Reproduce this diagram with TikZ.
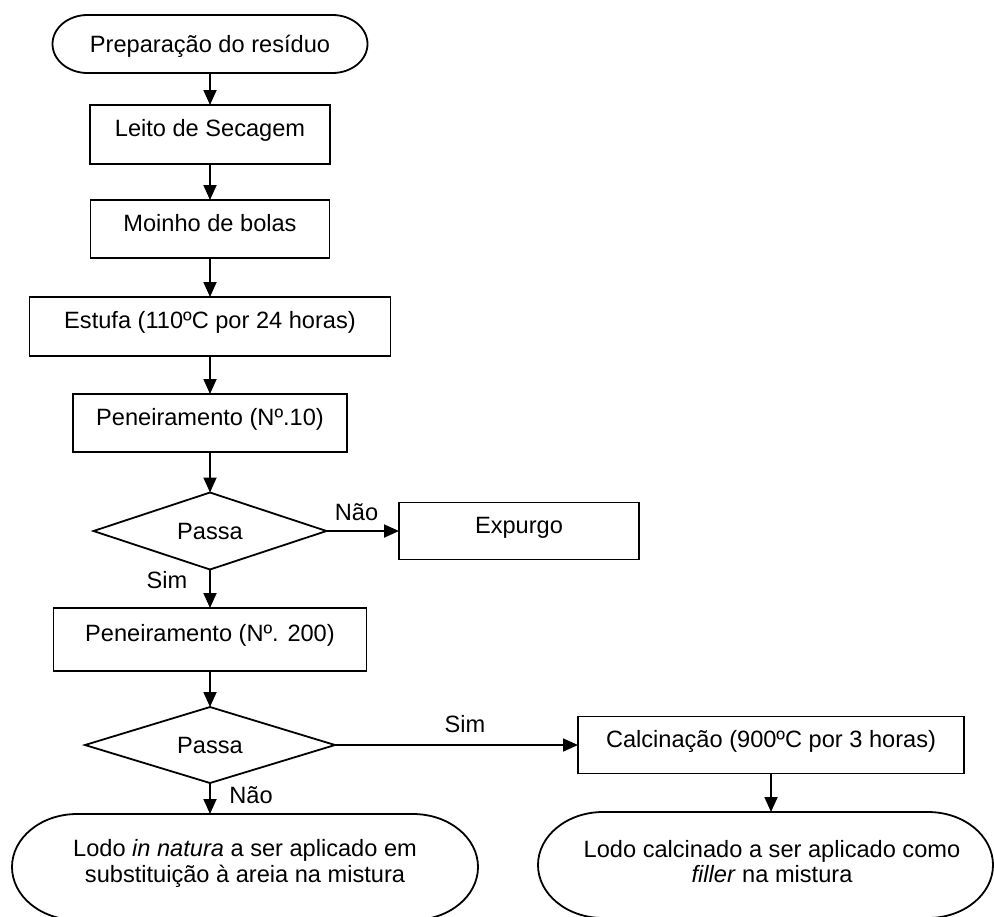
\documentclass[tikz,border=0pt]{standalone}
\usepackage{fontspec}
\setmainfont{Liberation Sans}
\usetikzlibrary{shapes.geometric,arrows.meta}
\begin{document}
\begin{tikzpicture}[x=0.5pt,y=0.5pt,
  font=\fontsize{11.8}{12.75}\selectfont,
  line width=0.9pt,
  box/.style={draw,rectangle,inner sep=0pt,outer sep=0pt,text height=8.6pt,text depth=6.2pt},
  dec/.style={draw,diamond,shape aspect=3,inner sep=0pt,outer sep=0pt},
  term/.style={rectangle,inner sep=0pt,outer sep=0pt},
  lbl/.style={anchor=base,inner sep=0pt},
  arr/.style={-{Triangle[length=7.5pt,width=6.5pt]}}
]
\useasboundingbox (0,0) rectangle (994,-916);
\fill[white] (0,0) rectangle (994,-916);
\clip (0,0) rectangle (994,-916);

% start terminator
\node[term,minimum width=157.5pt,minimum height=29pt,text height=8.6pt,text depth=0.2pt] (ts) at (210,-44) {Preparação do resíduo};
\draw ([xshift=17.5pt]ts.north west) -- ([xshift=-17.5pt]ts.north east)
  arc[start angle=90,end angle=-90,x radius=17.5pt,y radius=14.5pt]
  -- ([xshift=17.5pt]ts.south west)
  arc[start angle=270,end angle=90,x radius=17.5pt,y radius=14.5pt] -- cycle;

\node[box,minimum width=120pt,minimum height=29.5pt] (leito) at (210,-134.5) {Leito de Secagem};
\node[box,minimum width=119.5pt,minimum height=29pt] (moinho) at (210,-229) {Moinho de bolas};
\node[box,minimum width=180.5pt,minimum height=29.5pt] (estufa) at (210,-326.5) {Estufa (110ºC por 24 horas)};
\node[box,minimum width=137pt,minimum height=29pt] (pen10) at (210,-423) {Peneiramento (Nº.10)};
\node[dec,minimum width=116.5pt,minimum height=38.5pt] (d1) at (210,-531) {Passa};
\node[box,minimum width=120pt,minimum height=28.5pt] (exp) at (519,-531) {Expurgo};
\node[box,minimum width=156.5pt,minimum height=31.5pt] (pen200) at (210,-639.5) {Peneiramento (Nº. 200)};
\node[dec,minimum width=125pt,minimum height=38pt] (d2) at (210,-745) {Passa};
\node[box,minimum width=193pt,minimum height=28.5pt] (calc) at (771,-745) {Calcinação (900ºC por 3 horas)};

% bottom terminators
\node[term,minimum width=233pt,minimum height=53pt] (tl) at (245,-867) {};
\draw ([xshift=32.5pt]tl.north west) -- ([xshift=-32.5pt]tl.north east)
  arc[start angle=90,end angle=-90,x radius=32.5pt,y radius=26.5pt]
  -- ([xshift=32.5pt]tl.south west)
  arc[start angle=270,end angle=90,x radius=32.5pt,y radius=26.5pt] -- cycle;
\node[align=center,inner sep=0pt] (tltext) at (245,-863.5) {Lodo \textit{in natura} a ser aplicado em\\substituição à areia na mistura};

\node[term,minimum width=227.5pt,minimum height=53pt] (tr) at (765.5,-865) {};
\draw ([xshift=32.5pt]tr.north west) -- ([xshift=-32.5pt]tr.north east)
  arc[start angle=90,end angle=-90,x radius=32.5pt,y radius=26.5pt]
  -- ([xshift=32.5pt]tr.south west)
  arc[start angle=270,end angle=90,x radius=32.5pt,y radius=26.5pt] -- cycle;
\node[align=center,inner sep=0pt] (trtext) at (772,-861.5) {Lodo calcinado a ser aplicado como\\\textit{filler} na mistura};

% labels
\node[lbl] (nao1) at (356.5,-520) {Não};
\node[lbl] (sim1) at (167,-588) {Sim};
\node[lbl] (sim2) at (465,-732) {Sim};
\node[lbl] (nao2) at (251,-803) {Não};

% connectors
\draw[arr] (ts.south) -- (leito.north);
\draw[arr] (leito.south) -- (moinho.north);
\draw[arr] (moinho.south) -- (estufa.north);
\draw[arr] (estufa.south) -- (pen10.north);
\draw[arr] (pen10.south) -- (d1.north);
\draw[arr] (d1.east) -- (exp.west);
\draw[arr] (d1.south) -- (pen200.north);
\draw[arr] (pen200.south) -- (d2.north);
\draw[arr] (d2.east) -- (calc.west);
\draw[arr] (d2.south) -- (d2.south |- tl.north);
\draw[arr] (calc.south) -- (calc.south |- tr.north);
\end{tikzpicture}
\end{document}
